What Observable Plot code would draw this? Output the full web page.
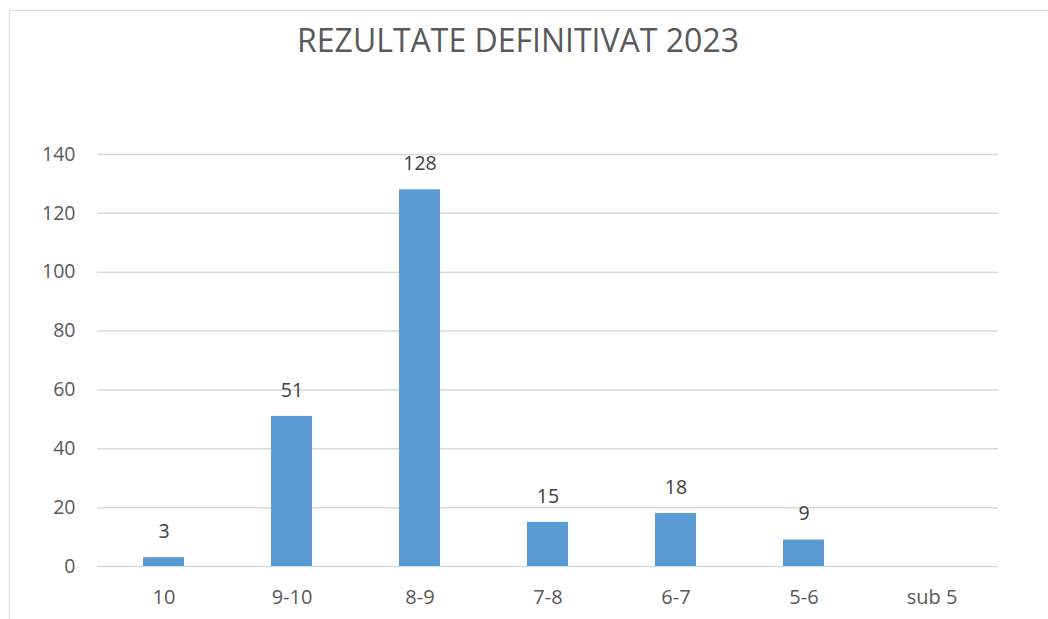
<!DOCTYPE html>
<html>
<head>
<meta charset="utf-8">
<script src="https://cdn.jsdelivr.net/npm/d3@7"></script>
<script src="https://cdn.jsdelivr.net/npm/@observablehq/plot@0.6"></script>
<style>
  html, body { margin: 0; padding: 0; background: #fff; }
  #wrap { position: relative; width: 1048px; height: 619px; overflow: hidden; font-family: "Open Sans", "Noto Sans", sans-serif; }
  #frame { position: absolute; left: 9px; top: 10px; width: 1100px; height: 700px; border-left: 1.5px solid #d9d9d9; border-top: 1.5px solid #d9d9d9; }
  #title { position: absolute; left: 0; width: 1036px; top: 18px; text-align: center; font-size: 32px; color: #595959; font-family: "Open Sans", "Noto Sans", sans-serif; }
  #chart { position: absolute; left: 0; top: 0; }
</style>
</head>
<body>
<div id="wrap">
  <div id="frame"></div>
  <div id="title">REZULTATE DEFINITIVAT 2023</div>
  <div id="chart"></div>
</div>
<script>
const categories = ["10", "9-10", "8-9", "7-8", "6-7", "5-6", "sub 5"];
const values = [3, 51, 128, 15, 18, 9, 0];
const yTicks = [0, 20, 40, 60, 80, 100, 120, 140];

const data = categories.map((c, i) => ({cat: c, v: values[i]}));

const plot = Plot.plot({
  width: 1048,
  height: 619,
  marginLeft: 97,
  marginRight: 50,
  marginTop: 154,
  marginBottom: 53,
  style: {background: "transparent", fontFamily: "'Open Sans', 'Noto Sans', sans-serif", fontSize: "20px", color: "#595959"},
  x: {domain: categories, paddingInner: 0.68, paddingOuter: 0.34, label: null},
  y: {domain: [0, 140], ticks: yTicks, label: null},
  marks: [
    Plot.gridY(yTicks, {stroke: "#d9d9d9", strokeOpacity: 1, strokeWidth: 1.5}),
    Plot.barY(data, {x: "cat", y: "v", fill: "#5b9bd5"}),
    Plot.text(data.filter(d => d.v > 0), {x: "cat", y: "v", text: d => String(d.v), dy: -26, fill: "#404040", fontSize: 19.5, lineAnchor: "middle"}),
    Plot.axisY(yTicks, {tickSize: 0, tickPadding: 22, fill: "#595959", fontSize: 19.5, label: null}),
    Plot.axisX({tickSize: 0, tickPadding: 23, fill: "#595959", fontSize: 20, label: null})
  ]
});
document.getElementById("chart").appendChild(plot);
</script>
</body>
</html>
